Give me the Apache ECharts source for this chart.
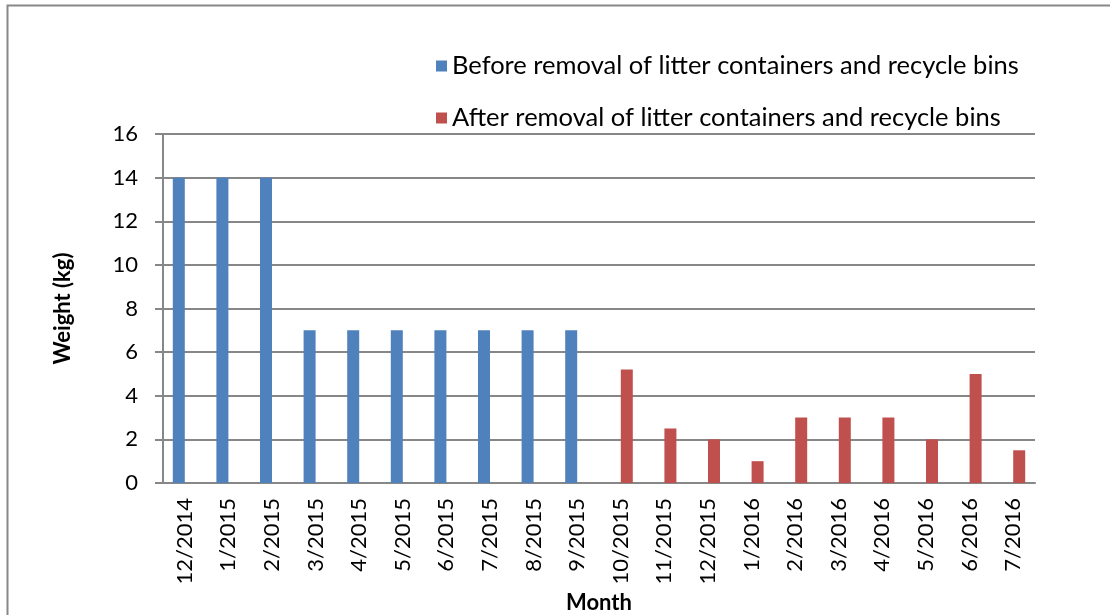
<!DOCTYPE html>
<html>
<head>
<meta charset="utf-8">
<script src="https://cdn.jsdelivr.net/npm/echarts@6/dist/echarts.min.js"></script>
<style>html,body{margin:0;padding:0;background:#fff}#c{width:1110px;height:615px}</style>
</head>
<body>
<div id="c"></div>
<script>
const categories = ["12/2014","1/2015","2/2015","3/2015","4/2015","5/2015","6/2015","7/2015","8/2015","9/2015","10/2015","11/2015","12/2015","1/2016","2/2016","3/2016","4/2016","5/2016","6/2016","7/2016"];
const beforeValues = [14,14,14,7,7,7,7,7,7,7,null,null,null,null,null,null,null,null,null,null];
const afterValues = [null,null,null,null,null,null,null,null,null,null,5.2,2.5,2,1,3,3,3,2,5,1.5];
const seriesNames = ["Before removal of litter containers and recycle bins","After removal of litter containers and recycle bins"];

const FONT = "Lato";
const chart = echarts.init(document.getElementById('c'), null, {renderer:'canvas'});
chart.setOption({
  animation:false,
  textStyle:{fontFamily:FONT},
  graphic:[{type:'rect',shape:{x:7.5,y:5.5,width:1200,height:700},style:{fill:'none',stroke:'#888',lineWidth:2},silent:true}],
  legend:{
    orient:'vertical', left:431, top:48, itemWidth:11, itemHeight:11, itemGap:26,
    icon:'rect',
    textStyle:{fontSize:25.5,color:'#000',fontFamily:FONT},
    data:seriesNames
  },
  grid:{left:163,right:75,top:134,bottom:132,containLabel:false,outerBoundsMode:'none'},
  xAxis:{
    type:'category', data:categories,
    axisLine:{lineStyle:{color:'#878787',width:2}},
    axisTick:{show:false},
    axisLabel:{rotate:90,margin:15,fontSize:22,color:'#000',fontFamily:FONT,interval:0},
    name:'Month', nameLocation:'middle', nameGap:106,
    nameTextStyle:{fontSize:22,fontWeight:'bold',color:'#000',fontFamily:FONT}
  },
  yAxis:{
    type:'value', min:0, max:16, interval:2,
    axisLine:{show:true,lineStyle:{color:'#878787',width:2}},
    axisTick:{show:true,length:8,lineStyle:{color:'#878787',width:2}},
    splitLine:{lineStyle:{color:'#878787',width:2}},
    axisLabel:{fontSize:22,color:'#000',margin:25,fontFamily:FONT},
    name:'Weight (kg)', nameLocation:'middle', nameGap:89, nameRotate:90,
    nameTextStyle:{fontSize:22,fontWeight:'bold',color:'#000',fontFamily:FONT}
  },
  series:[
    {name:seriesNames[0],type:'bar',data:beforeValues,barWidth:12,barGap:'0%',itemStyle:{color:'#4F81BD'}},
    {name:seriesNames[1],type:'bar',data:afterValues,barWidth:12,barGap:'0%',itemStyle:{color:'#C0504D'}}
  ]
});
</script>
</body>
</html>
